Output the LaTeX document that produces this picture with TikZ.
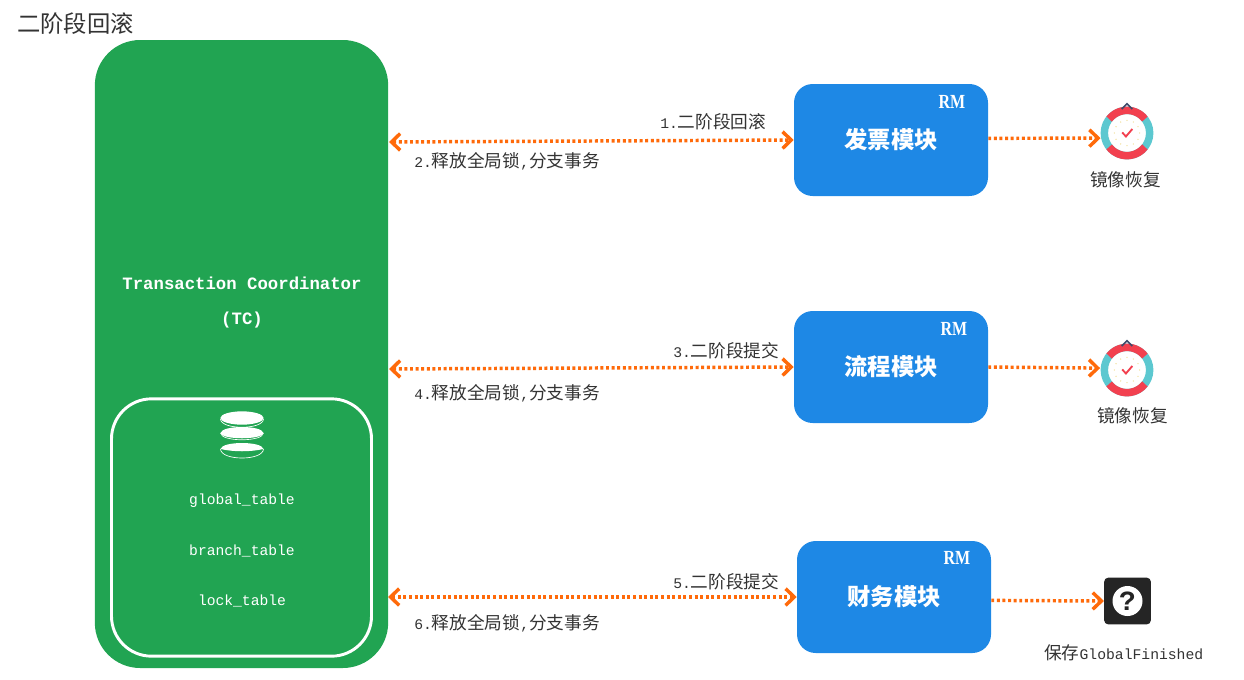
\documentclass[tikz,border=0pt]{standalone}
\usepackage{fontspec}
\setmainfont{Liberation Mono}[Scale=0.833]
\newfontfamily\cjk{Noto Sans CJK SC}
\newfontfamily\serifbold{Liberation Serif}[Scale=1,FakeStretch=0.8]
\newcommand{\zh}[1]{{\cjk #1}}
\usetikzlibrary{arrows.meta,shapes.geometric}
\definecolor{tcgreen}{HTML}{21A452}
\definecolor{rmblue}{HTML}{1E88E5}
\definecolor{linkorange}{HTML}{FF6A0A}
\definecolor{txtgray}{HTML}{333333}
\definecolor{buoyred}{HTML}{F2404F}
\definecolor{buoyteal}{HTML}{5CC8D0}
\definecolor{buoydot}{HTML}{F3E3A8}
\definecolor{hookblue}{HTML}{3D4A6B}
\definecolor{helpdark}{HTML}{252525}
\tikzset{
  rmbox/.style={rectangle,fill=rmblue,rounded corners=14pt,minimum width=145.5pt,minimum height=84pt,inner sep=0pt,text=white,font=\bfseries\fontsize{17.5pt}{20pt}\selectfont},
  rmtag/.style={text=white,inner sep=0pt,font=\serifbold\bfseries\fontsize{15pt}{18pt}\selectfont},
  tbl/.style={text=white,inner sep=0pt,font=\fontsize{13.2pt}{16pt}\selectfont},
  tctext/.style={text=white,inner sep=0pt,font=\bfseries\fontsize{15.6pt}{18pt}\selectfont},
  lbl/.style={text=txtgray,inner sep=0pt,anchor=west,font=\fontsize{13.25pt}{16pt}\selectfont},
  link/.style={draw=linkorange,line width=2.6pt,dash pattern=on 2.2pt off 2pt},
  duplex/.style={link,{Straight Barb[length=6.5pt,width=12.5pt,line width=2.6pt]}-{Straight Barb[length=6.5pt,width=12.5pt,line width=2.6pt]}},
  oneway/.style={link,-{Straight Barb[length=6.5pt,width=12.5pt,line width=2.6pt]}},
  buoyspot/.style={circle,minimum size=40pt,inner sep=0pt},
  pics/buoy/.style={code={
    \draw[buoyteal,line width=5.6pt] (0,0) circle[radius=17pt];
    \draw[buoyred,line width=5.6pt] (38:17pt) arc[start angle=38,end angle=142,radius=17pt];
    \draw[buoyred,line width=5.6pt] (218:17pt) arc[start angle=218,end angle=322,radius=17pt];
    \foreach \ang in {0,30,...,330}
      \fill[buoydot] (\ang:9.5pt) circle[radius=0.6pt];
    \draw[buoyred,line width=1.4pt] (-3.6pt,0.4pt) -- (-0.8pt,-2.6pt) -- (4pt,3pt);
    \draw[hookblue,line width=1.2pt] (-4pt,18pt) -- (0pt,22pt) -- (4pt,18pt);
  }},
}
\begin{document}
\begin{tikzpicture}[x=0.75pt,y=-0.75pt]
\useasboundingbox (0,0) rectangle (1244,679);
\node[anchor=west,inner sep=0pt,text=txtgray,font=\cjk\fontsize{17.5pt}{20pt}\selectfont] (title) at (17,24) {二阶段回滚};
% TC
\node[rectangle,fill=tcgreen,rounded corners=34pt,minimum width=220pt,minimum height=471pt,inner sep=0pt] (tc) at (241.5,354) {};
\node[tctext] (tcname) at (242,283) {Transaction Coordinator};
\node[tctext] (tcshort) at (242,320) {(TC)};
\node[rectangle,draw=white,line width=2.2pt,rounded corners=30pt,minimum width=195pt,minimum height=193pt,inner sep=0pt] (store) at (241.5,527.5) {};
% db icon
\fill[white] (242,418) ellipse[x radius=16.2pt,y radius=5pt];
\draw[white,line width=0.5pt] (220.5,419) .. controls (221,430) and (263,430) .. (263.5,419);
\fill[white] (220.5,433) .. controls (222,425) and (262,425) .. (263.5,433) .. controls (262,440) and (222,440) .. (220.5,433) -- cycle;
\draw[white,line width=0.5pt] (220.5,433) .. controls (221,442) and (263,442) .. (263.5,433);
\fill[white] (220.5,449) .. controls (222,441) and (262,441) .. (263.5,449) .. controls (250,452) and (234,452) .. (220.5,449) -- cycle;
\draw[white,line width=0.5pt] (220.5,449) .. controls (221,461) and (263,461) .. (263.5,449);
\node[tbl] (globaltbl) at (242,501) {global\_table};
\node[tbl] (branchtbl) at (242,551) {branch\_table};
\node[tbl] (locktbl) at (242,601) {lock\_table};
% modules
\node[rmbox] (fapiao) at (891,140) {\zh{发票模块}};
\node[rmbox] (liucheng) at (891,367) {\zh{流程模块}};
\node[rmbox] (caiwu) at (894,597) {\zh{财务模块}};
\node[rmtag] (rma) at (952,102) {RM};
\node[rmtag] (rmb) at (954,329) {RM};
\node[rmtag] (rmc) at (957,558) {RM};
% icons
\node[buoyspot] (buoya) at (1127,133) {};
\node[buoyspot] (buoyb) at (1127,370) {};
\pic at (1127,133) {buoy};
\pic at (1127,370) {buoy};
\node[rectangle,fill=helpdark,rounded corners=3pt,minimum size=35pt,inner sep=0pt] (helpbox) at (1127.5,601) {};
\node[circle,fill=white,minimum size=22.5pt,inner sep=0pt,text=helpdark,font=\bfseries\fontsize{25pt}{26pt}\selectfont] (helpmark) at (1127.5,601) {?};
\node[lbl] (imga) at (1090,180) {\zh{镜像恢复}};
\node[lbl] (imgb) at (1097,416) {\zh{镜像恢复}};
\node[lbl] (saved) at (1044,653) {\zh{保存}GlobalFinished};
% links
\coordinate (tca) at (389,142);
\coordinate (tcb) at (389,369);
\coordinate (tcc) at (388,597);
\draw[duplex] (tca) -- (fapiao.west);
\draw[duplex] (tcb) -- (liucheng.west);
\draw[duplex] (tcc) -- (caiwu.west);
\draw[oneway] (fapiao.1.2) -- (buoya.191);
\draw[oneway] (liucheng.-0.6) -- (buoyb.176);
\draw[oneway] (caiwu.-2.3) -- (helpbox.west);
\node[lbl] (stepa) at (660,122) {1.\zh{二阶段回滚}};
\node[lbl] (stepb) at (414,161) {2.\zh{释放全局锁},\zh{分支事务}};
\node[lbl] (stepc) at (673,351) {3.\zh{二阶段提交}};
\node[lbl] (stepd) at (414,393) {4.\zh{释放全局锁},\zh{分支事务}};
\node[lbl] (stepe) at (673,582) {5.\zh{二阶段提交}};
\node[lbl] (stepf) at (414,623) {6.\zh{释放全局锁},\zh{分支事务}};
\end{tikzpicture}
\end{document}
